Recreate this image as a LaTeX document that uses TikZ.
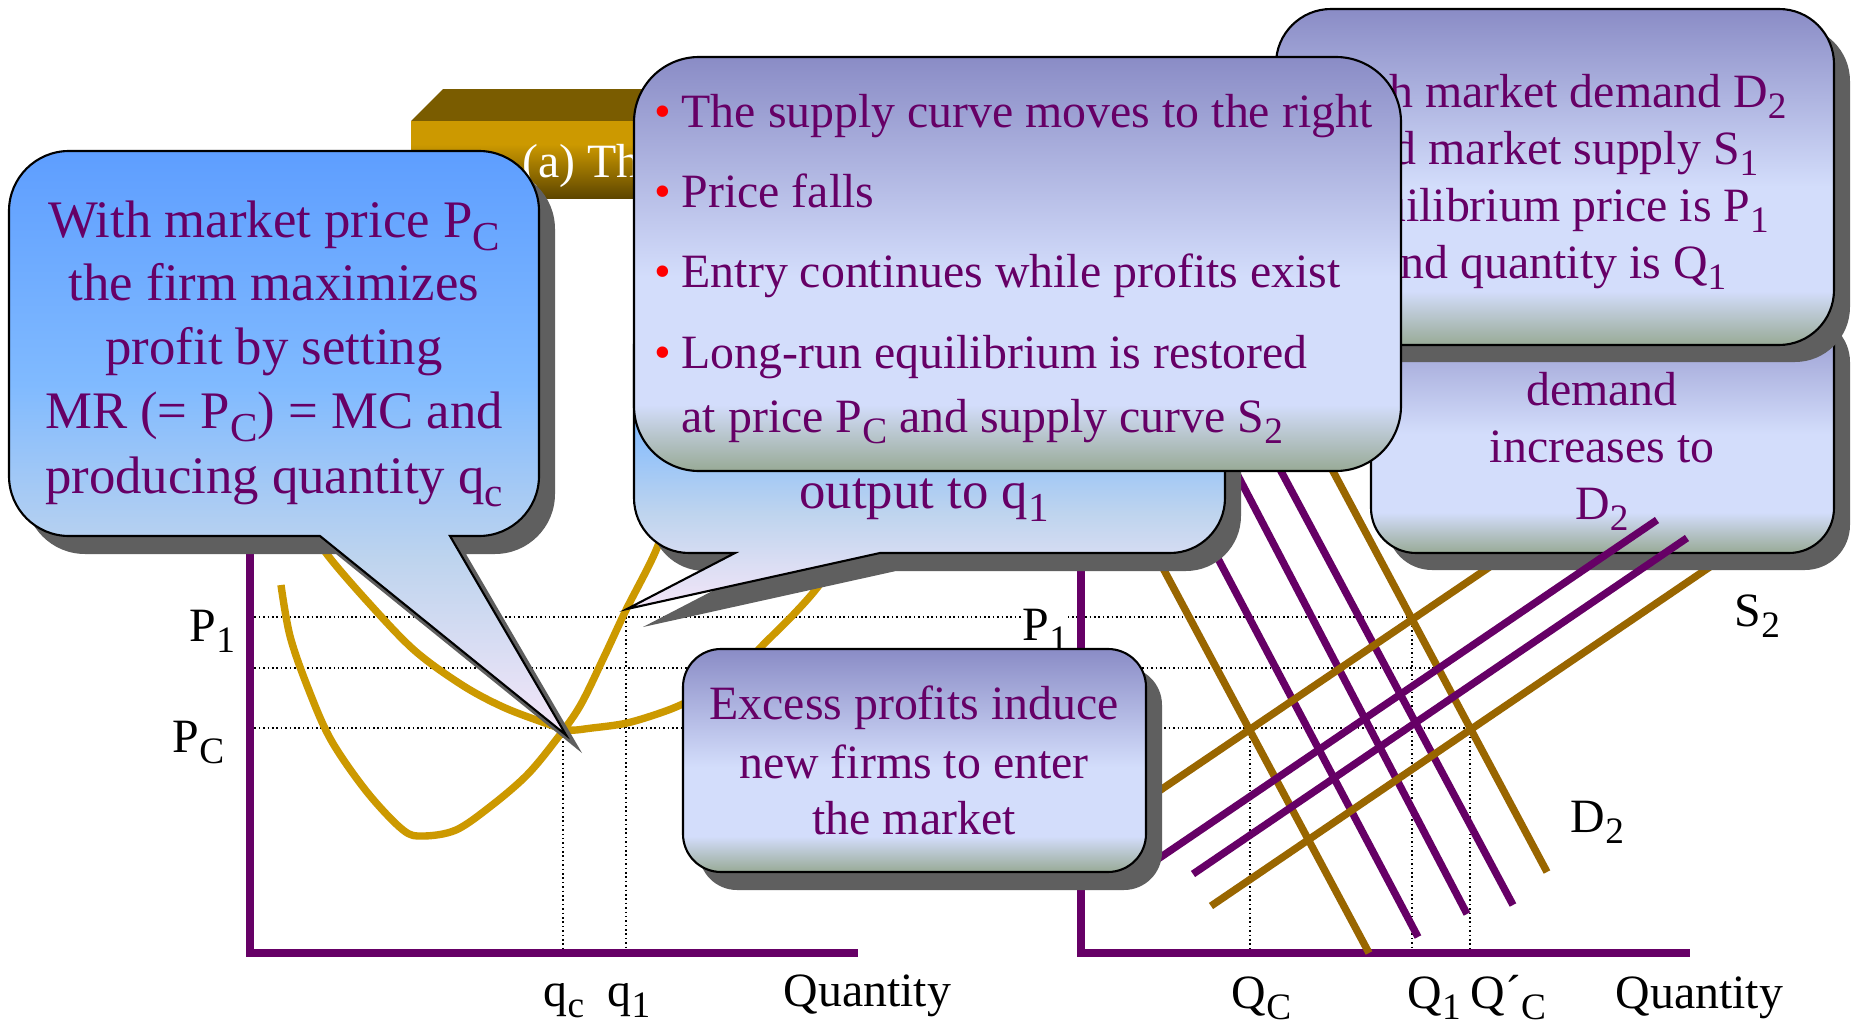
\documentclass[tikz,border=0pt]{standalone}
\usepackage{fontspec}
\setmainfont{Liberation Serif}
\usepackage{graphicx}
\definecolor{txtc}{HTML}{660066}
\definecolor{axc}{HTML}{660066}
\definecolor{goldL}{HTML}{CC9900}
\definecolor{goldR}{HTML}{996600}
\definecolor{shc}{HTML}{5F5F5F}
\definecolor{lavA}{RGB}{138,140,198}
\definecolor{lavB}{RGB}{211,221,251}
\definecolor{lavC}{RGB}{152,170,150}
\definecolor{bluA}{RGB}{94,158,255}
\definecolor{bluB}{RGB}{128,186,255}
\definecolor{bluC}{RGB}{190,212,238}
\definecolor{bluD}{RGB}{244,230,248}
\definecolor{gA}{RGB}{204,153,0}
\definecolor{gD}{RGB}{94,70,0}
\definecolor{gTop}{RGB}{122,92,0}
\pgfdeclareverticalshading{lavsh}{100bp}{color(0bp)=(lavC); color(25bp)=(lavC); color(33bp)=(lavB); color(48.5bp)=(lavB); color(75bp)=(lavA); color(100bp)=(lavA)}
\pgfdeclareverticalshading{bluesh}{100bp}{color(0bp)=(bluD); color(25bp)=(bluD); color(40bp)=(bluC); color(55bp)=(bluB); color(75bp)=(bluA); color(100bp)=(bluA)}
\pgfdeclareverticalshading{goldsh}{100bp}{color(0bp)=(gD); color(25bp)=(gD); color(60bp)=(gA); color(100bp)=(gA)}
\newcommand\lowsub[1]{\raisebox{-0.25em}{\scalebox{0.78}{#1}}}
\newcommand\roundbox[5]{(#1+#5,#2) -- (#3-#5,#2) arc[start angle=270,end angle=360,radius=#5] -- (#3,#4-#5) arc[start angle=0,end angle=90,radius=#5] -- (#1+#5,#4) arc[start angle=90,end angle=180,radius=#5] -- (#1,#2+#5) arc[start angle=180,end angle=270,radius=#5] -- cycle}
\newcommand\calloutpath[9]{(#1+#5,#2) -- (#3-#5,#2) arc[start angle=270,end angle=360,radius=#5] -- (#3,#4-#5) arc[start angle=0,end angle=90,radius=#5] -- (#7,#4) -- (#8,#9) -- (#6,#4) -- (#1+#5,#4) arc[start angle=90,end angle=180,radius=#5] -- (#1,#2+#5) arc[start angle=180,end angle=270,radius=#5] -- cycle}
\begin{document}
\begin{tikzpicture}[x=0.01cm,y=-0.01cm,
  dotl/.style={black,line width=0.45pt,dash pattern=on 0.45pt off 0.8pt},
  axisline/.style={draw=axc,line width=2.3pt},
  curveL/.style={draw=goldL,line width=2.1pt},
  lineG/.style={draw=goldR,line width=2.1pt},
  lineP/.style={draw=axc,line width=2.1pt},
  shadowfill/.style={fill=shc},
  lavbox/.style={shading=lavsh,draw=black,line width=0.6pt},
  blubox/.style={shading=bluesh,draw=black,line width=0.6pt},
  ctext/.style={font=\fontsize{13.6}{16}\selectfont,text=txtc,inner sep=0pt},
  btext/.style={font=\fontsize{15}{18}\selectfont,text=txtc,inner sep=0pt},
  lab/.style={font=\fontsize{13.6}{16}\selectfont,text=black,inner sep=0pt},
  bul/.style={font=\fontsize{13.6}{16}\selectfont,text=red,inner sep=0pt}]
\useasboundingbox (0,0) rectangle (1856,1024);
\fill[white] (0,0) rectangle (1856,1024);
% dotted guide lines
\draw[dotl] (250,617) -- (1412,617);
\draw[dotl] (250,668) -- (1437,668);
\draw[dotl] (250,728) -- (1470,728);
\draw[dotl] (563,728) -- (563,953);
\draw[dotl] (626,617) -- (626,953);
\draw[dotl] (1250,728) -- (1250,953);
\draw[dotl] (1412,617) -- (1412,953);
\draw[dotl] (1470,728) -- (1470,953);
% firm cost curves
\draw[curveL] plot[smooth,tension=0.55] coordinates {(281,585) (290,636) (308,688) (331,740) (367,792) (403,830) (423,836) (456,830) (491,806) (527,775) (556,740) (580,706) (604,657) (626,610) (657,548) (675,490)};
\draw[curveL] plot[smooth,tension=0.55] coordinates {(315,530) (326,553) (367,601) (414,650) (462,685) (503,707) (545,723) (568,730) (592,728) (627,723) (663,712) (687,702) (720,685) (745,665) (761,647) (793,615) (817,588) (840,555)};
% axes
\draw[axisline] (250,540) -- (250,953) -- (858,953);
\draw[axisline] (1081,560) -- (1081,953) -- (1690,953);
% industry lines
\draw[lineG] (1089,430) -- (1369,953);
\draw[lineG] (1311,430) -- (1547,872);
\draw[lineP] (1150,430) -- (1418,937);
\draw[lineP] (1214,430) -- (1467,914);
\draw[lineP] (1259,430) -- (1513,905);
\draw[lineG] (1100,831) -- (1522,545);
\draw[lineG] (1211,906) -- (1720,560);
% labels
\node[lab,anchor=base west] (lp1) at (189,641) {P\lowsub{1}};
\node[lab,anchor=base west] (lpc) at (172,752) {P\lowsub{C}};
\node[lab,anchor=base west] (lqc) at (543,1006) {q\lowsub{c}};
\node[lab,anchor=base west] (lq1) at (607,1006) {q\lowsub{1}};
\node[lab,anchor=base west] (lqty) at (783,1006) {Quantity};
\node[lab,anchor=base west,fill=white] (rp1) at (1022,640) {P\lowsub{1}};
\node[lab,anchor=base west] (rqc) at (1231,1008) {Q\lowsub{C}};
\node[lab,anchor=base west] (rq1) at (1407,1008) {Q\lowsub{1}};
\node[lab,anchor=base west] (rqc2) at (1470,1008) {Q´\lowsub{C}};
\node[lab,anchor=base west] (rqty) at (1615,1008) {Quantity};
\node[lab,anchor=base west] (rd2) at (1570,832) {D\lowsub{2}};
\node[lab,anchor=base west] (rs2) at (1734,626) {S\lowsub{2}};
% title box
\fill[gTop] (411,121) -- (443,89) -- (932,89) -- (900,121) -- cycle;
\shade[shading=goldsh] (411,121) rectangle (900,198);
\node[font=\fontsize{13.6}{16}\selectfont,text=white,inner sep=0pt,anchor=base west] (ttl) at (522,177) {(a) The};
% lower-right callout
\fill[shadowfill,shift={(16,17)}] \roundbox{1371}{300}{1834}{553}{45};
\shadedraw[lavbox] \roundbox{1371}{300}{1834}{553}{45};
\node[ctext,anchor=base] (lr1) at (1602,405) {demand};
\node[ctext,anchor=base] (lr2) at (1602,462) {increases to};
\node[ctext,anchor=base] (lr3) at (1602,519) {D\lowsub{2}};
% supply shifts drawn over that callout
\draw[lineP] (1130,878) -- (1657,520);
\draw[lineP] (1193,874) -- (1687,538);
% top-right callout
\fill[shadowfill,shift={(16,17)}] \roundbox{1276}{9}{1834}{345}{55};
\shadedraw[lavbox] \roundbox{1276}{9}{1834}{345}{55};
\node[ctext,anchor=base] (tr1) at (1553,107) {With market demand D\lowsub{2}};
\node[ctext,anchor=base] (tr2) at (1553,164) {and market supply S\lowsub{1}};
\node[ctext,anchor=base] (tr3) at (1553,221) {equilibrium price is P\lowsub{1}};
\node[ctext,anchor=base] (tr4) at (1553,278) {and quantity is Q\lowsub{1}};
% middle callout
\fill[shadowfill,shift={(16,18)}] \calloutpath{634}{290}{1225}{553}{55}{735}{880}{627}{609};
\shadedraw[blubox] \calloutpath{634}{290}{1225}{553}{55}{735}{880}{627}{609};
\node[btext,anchor=base] (mid) at (924,508) {output to q\lowsub{1}};
% bullet callout
\shadedraw[lavbox] \roundbox{634}{57}{1401}{471}{65};
\node[bul,anchor=base west] (b1) at (654,127) {•};
\node[ctext,anchor=base west] (t1) at (681,127) {The supply curve moves to the right};
\node[bul,anchor=base west] (b2) at (654,207) {•};
\node[ctext,anchor=base west] (t2) at (681,207) {Price falls};
\node[bul,anchor=base west] (b3) at (654,287) {•};
\node[ctext,anchor=base west] (t3) at (681,287) {Entry continues while profits exist};
\node[bul,anchor=base west] (b4) at (654,368) {•};
\node[ctext,anchor=base west] (t4) at (681,368) {Long-run equilibrium is restored};
\node[ctext,anchor=base west] (t5) at (681,432) {at price P\lowsub{C} and supply curve S\lowsub{2}};
% left callout
\fill[shadowfill,shift={(16,18)}] \calloutpath{9}{151}{539}{536}{60}{320}{450}{566}{735};
\shadedraw[blubox] \calloutpath{9}{151}{539}{536}{60}{320}{450}{566}{735};
\node[btext,anchor=base] (l1) at (274,237) {With market price P\lowsub{C}};
\node[btext,anchor=base] (l2) at (274,300) {the firm maximizes};
\node[btext,anchor=base] (l3) at (274,364) {profit by setting};
\node[btext,anchor=base] (l4) at (274,428) {MR (= P\lowsub{C}) = MC and};
\node[btext,anchor=base] (l5) at (274,493) {producing quantity q\lowsub{c}};
% excess profits callout
\fill[shadowfill,shift={(16,18)}] \roundbox{683}{649}{1146}{872}{38};
\shadedraw[lavbox] \roundbox{683}{649}{1146}{872}{38};
\node[ctext,anchor=base] (e1) at (914,719) {Excess profits induce};
\node[ctext,anchor=base] (e2) at (914,778) {new firms to enter};
\node[ctext,anchor=base] (e3) at (914,834) {the market};
\end{tikzpicture}
\end{document}
